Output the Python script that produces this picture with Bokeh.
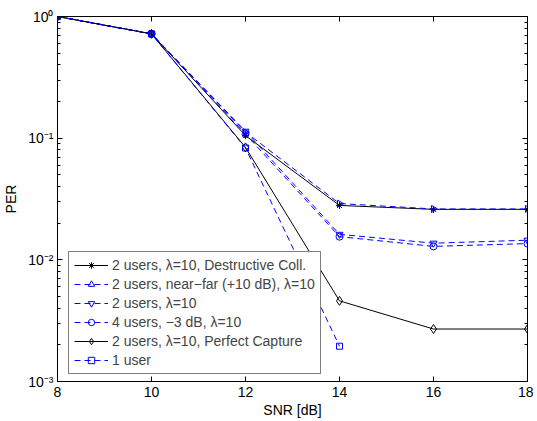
import math
from bokeh.plotting import figure
from bokeh.models import (Range1d, FixedTicker, LogAxis, LinearAxis, Legend)
from bokeh.embed import file_html
from bokeh.resources import INLINE

# ---- data ----
snr = [8, 10, 12, 14, 16, 18]
snr_one = [8, 10, 12, 14]
destructive = [1.0, 0.72, 0.105, 0.028, 0.026, 0.026]
near_far = [1.0, 0.72, 0.112, 0.029, 0.0262, 0.0262]
two_users = [1.0, 0.72, 0.114, 0.0162, 0.0137, 0.0145]
four_users = [1.0, 0.72, 0.108, 0.0155, 0.0129, 0.0136]
perfect = [1.0, 0.72, 0.084, 0.0046, 0.0027, 0.0027]
one_user = [1.0, 0.72, 0.083, 0.00195]

x_ticks = [8, 10, 12, 14, 16, 18]
y_ticks = [1e-3, 1e-2, 1e-1, 1e0]
y_tick_labels = ["10\u207b\u00b3", "10\u207b\u00b2", "10\u207b\u00b9", "10\u2070"]
y_minor = [m * 10.0 ** e for e in (-3, -2, -1) for m in range(2, 10)]

labels = [
    "2 users, \u03bb=10, Destructive Coll.",
    "2 users, near\u2212far (+10 dB), \u03bb=10",
    "2 users, \u03bb=10",
    "4 users, \u22123 dB, \u03bb=10",
    "2 users, \u03bb=10, Perfect Capture",
    "1 user",
]

FONT = "Liberation Sans"
BLUE = "#0000ff"

p = figure(frame_width=470, frame_height=365, y_axis_type="log",
           x_range=Range1d(8, 18), y_range=Range1d(1e-3, 1.0),
           output_backend="svg", toolbar_location=None,
           min_border_left=52, min_border_top=16, min_border_right=6,
           min_border_bottom=30)
p.xgrid.grid_line_color = None
p.ygrid.grid_line_color = None
p.outline_line_color = "black"
p.background_fill_color = "white"

DASH = "6 4"
items = []

r1 = p.line(snr, destructive, line_color="black", line_width=1)
s1 = p.scatter(snr, destructive, marker="asterisk", size=7, line_color="black")
items.append((labels[0], [r1, s1]))

r2 = p.line(snr, near_far, line_color=BLUE, line_width=1, line_dash=DASH)
s2 = p.scatter(snr, near_far, marker="triangle", angle=-math.pi / 2, size=7,
               line_color=BLUE, fill_color=None)
items.append((labels[1], [r2, s2]))

r3 = p.line(snr, two_users, line_color=BLUE, line_width=1, line_dash=DASH)
s3 = p.scatter(snr, two_users, marker="inverted_triangle", size=7,
               line_color=BLUE, fill_color=None)
items.append((labels[2], [r3, s3]))

r4 = p.line(snr, four_users, line_color=BLUE, line_width=1, line_dash=DASH)
s4 = p.scatter(snr, four_users, marker="circle", size=7,
               line_color=BLUE, fill_color=None)
items.append((labels[3], [r4, s4]))

r5 = p.line(snr, perfect, line_color="black", line_width=1)
s5 = p.scatter(snr, perfect, marker="diamond", size=9,
               line_color="black", fill_color=None)
items.append((labels[4], [r5, s5]))

r6 = p.line(snr_one, one_user, line_color=BLUE, line_width=1, line_dash=DASH)
s6 = p.scatter(snr_one, one_user, marker="square", size=6,
               line_color=BLUE, fill_color=None)
items.append((labels[5], [r6, s6]))

legend = Legend(items=items, location=(11, 7))
legend.label_text_font = FONT
legend.label_text_font_size = "14px"
legend.label_height = 16
legend.glyph_height = 16
legend.glyph_width = 34
legend.spacing = 3
legend.padding = 5
legend.margin = 0
legend.label_standoff = 4
legend.border_line_color = "black"
legend.border_line_width = 1
legend.background_fill_alpha = 1.0
p.add_layout(legend, "center")

# axes styling
def style(ax, labels_on=True):
    ax.axis_line_color = "black"
    ax.major_tick_in = 5
    ax.major_tick_out = 0
    ax.minor_tick_in = 3
    ax.minor_tick_out = 0
    ax.major_tick_line_color = "black"
    ax.minor_tick_line_color = "black"
    ax.major_label_text_font = FONT
    ax.major_label_text_font_size = "14px" if labels_on else "0px"
    ax.major_label_text_color = "black"
    ax.axis_label_text_font = FONT
    ax.axis_label_text_font_size = "14px"
    ax.axis_label_text_font_style = "normal"
    ax.axis_label_text_color = "black"

xt = FixedTicker(ticks=x_ticks, minor_ticks=[])
yt = FixedTicker(ticks=y_ticks, minor_ticks=y_minor)

p.xaxis.ticker = xt
p.yaxis.ticker = yt
for ax in p.xaxis:
    style(ax)
    ax.axis_label = "SNR [dB]"
    ax.major_label_standoff = 5
    ax.axis_label_standoff = 2
    ax.minor_tick_line_color = None
for ax in p.yaxis:
    style(ax)
    ax.axis_label = "PER"
    ax.major_label_standoff = 4
    ax.axis_label_standoff = 6
    ax.major_label_overrides = dict(zip(y_ticks, y_tick_labels))

top = LinearAxis(ticker=xt)
style(top, labels_on=False)
top.minor_tick_line_color = None
top.major_label_overrides = {t: "" for t in x_ticks}
top.major_label_standoff = 0
p.add_layout(top, "above")

right = LogAxis(ticker=yt)
style(right, labels_on=False)
right.major_label_overrides = {t: "" for t in y_ticks}
right.major_label_standoff = 0
p.add_layout(right, "right")

open("out.html", "w").write(file_html(p, INLINE))
